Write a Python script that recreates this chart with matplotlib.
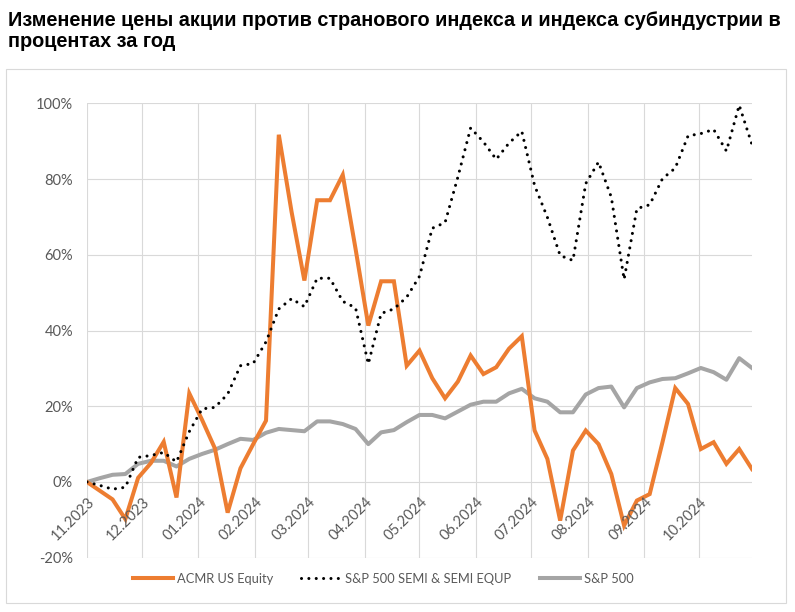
import numpy as np
import pandas as pd
import matplotlib
matplotlib.use("Agg")
import matplotlib.pyplot as plt
from matplotlib.patches import Rectangle

# weekly points, Nov 2023 - Oct 2024 (% change over the year)
dates = pd.date_range("2023-11-01", periods=53, freq="7D")

acmr = [0, -2.3, -4.6, -9.8, 1.1, 5.0, 10.6, -4.1, 23.4, 16.4,
        8.9, -8.1, 3.6, 10.0, 16.2, 91.7, 71.3, 53.2, 74.4, 74.4,
        81.1, 61.6, 41.3, 53.0, 53.0, 30.7, 34.7, 27.4, 22.1, 26.5,
        33.4, 28.5, 30.3, 35.2, 38.5, 13.6, 6.1, -10.2, 8.3, 13.6,
        10.0, 2.1, -11.5, -4.9, -3.2, 10.5, 24.8, 20.6, 8.7, 10.5,
        4.8, 8.7, 3.4]

semi = [0, -0.9, -1.9, -1.4, 6.5, 7.0, 7.8, 5.3, 13.3, 19.3,
        19.7, 23.2, 30.7, 31.3, 37.0, 45.7, 48.4, 46.3, 53.8, 53.8,
        47.7, 46.0, 31.2, 44.5, 45.7, 48.8, 54.3, 67.0, 68.5, 80.5,
        93.5, 89.8, 85.2, 89.5, 92.6, 78.3, 69.9, 59.8, 58.5, 78.8,
        84.5, 75.2, 53.5, 72.2, 73.2, 80.1, 82.9, 91.4, 92.0, 93.1,
        87.4, 99.5, 89.1]

spx = [0, 1.0, 1.9, 2.1, 4.8, 5.6, 5.6, 4.1, 6.1, 7.4,
       8.5, 10.0, 11.4, 11.1, 13.0, 14.0, 13.7, 13.4, 16.0, 16.0,
       15.3, 14.0, 10.0, 13.1, 13.7, 15.8, 17.7, 17.7, 16.8, 18.6,
       20.4, 21.2, 21.2, 23.4, 24.6, 22.1, 21.2, 18.4, 18.4, 23.1,
       24.8, 25.2, 19.7, 24.8, 26.3, 27.2, 27.4, 28.7, 30.1, 29.0,
       27.0, 32.7, 30.1]

month_ticks = pd.date_range("2023-11-01", periods=12, freq="MS")
month_labels = ["11.2023", "12.2023", "01.2024", "02.2024", "03.2024", "04.2024",
                "05.2024", "06.2024", "07.2024", "08.2024", "09.2024", "10.2024"]
y_ticks = [-20, 0, 20, 40, 60, 80, 100]
y_labels = ["-20%", "0%", "20%", "40%", "60%", "80%", "100%"]

TITLE = ("Изменение цены акции против странового индекса и индекса субиндустрии в\n"
         "процентах за год")

ORANGE = "#ED7D31"
GREY = "#A5A5A5"
GRID = "#D9D9D9"
TXT = "#595959"
FONT = "Lato"

fig = plt.figure(figsize=(7.95, 6.12), dpi=100)
fig.patch.set_facecolor("white")
ax = fig.add_axes([0.1094, 0.0887, 0.8365, 0.7425])

ax.plot(dates, acmr, color=ORANGE, lw=2.9, solid_joinstyle="miter", label="ACMR US Equity", zorder=3)
ax.plot(dates, semi, color="black", lw=2.2, linestyle=(0, (0.01, 2.4)),
        dash_capstyle="round", label="S&P 500 SEMI & SEMI EQUP", zorder=4)
ax.plot(dates, spx, color=GREY, lw=2.9, label="S&P 500", zorder=2)

ax.set_xlim(dates[0], dates[-1])
ax.set_ylim(-20, 100)

ax.set_yticks(y_ticks)
ax.set_yticklabels(y_labels, fontsize=10.5, color=TXT, family=FONT)
ax.set_xticks(month_ticks)
ax.set_xticklabels([])
ax.tick_params(length=0)
ax.tick_params(axis="y", pad=10)
ax.grid(True, color=GRID, lw=0.8)
ax.set_axisbelow(True)
for sp in ax.spines.values():
    sp.set_visible(False)

# date labels sit on the 0% line, as in Excel
for d, lab in zip(month_ticks, month_labels):
    ax.annotate(lab, (d, 0), xytext=(4.0, -13), textcoords="offset points",
                rotation=45, ha="right", va="center", rotation_mode="anchor",
                fontsize=10.5, color=TXT, family=FONT)

fig.text(0.010, 0.982, TITLE, ha="left", va="top", fontsize=14.3,
         fontweight="bold", family="Liberation Sans", linespacing=1.1)

leg = fig.legend(loc="center", bbox_to_anchor=(0.482, 0.054), ncol=3, frameon=False,
                 handlelength=3.1, handletextpad=0.3, columnspacing=2.2,
                 prop={"family": FONT, "size": 9.3})
for t in leg.get_texts():
    t.set_color(TXT)

fig.patches.append(Rectangle((0.0072, 0.0147), 0.981, 0.872, transform=fig.transFigure,
                             fill=False, edgecolor=GRID, lw=0.8))

fig.savefig("out.png", dpi=100, facecolor="white")
